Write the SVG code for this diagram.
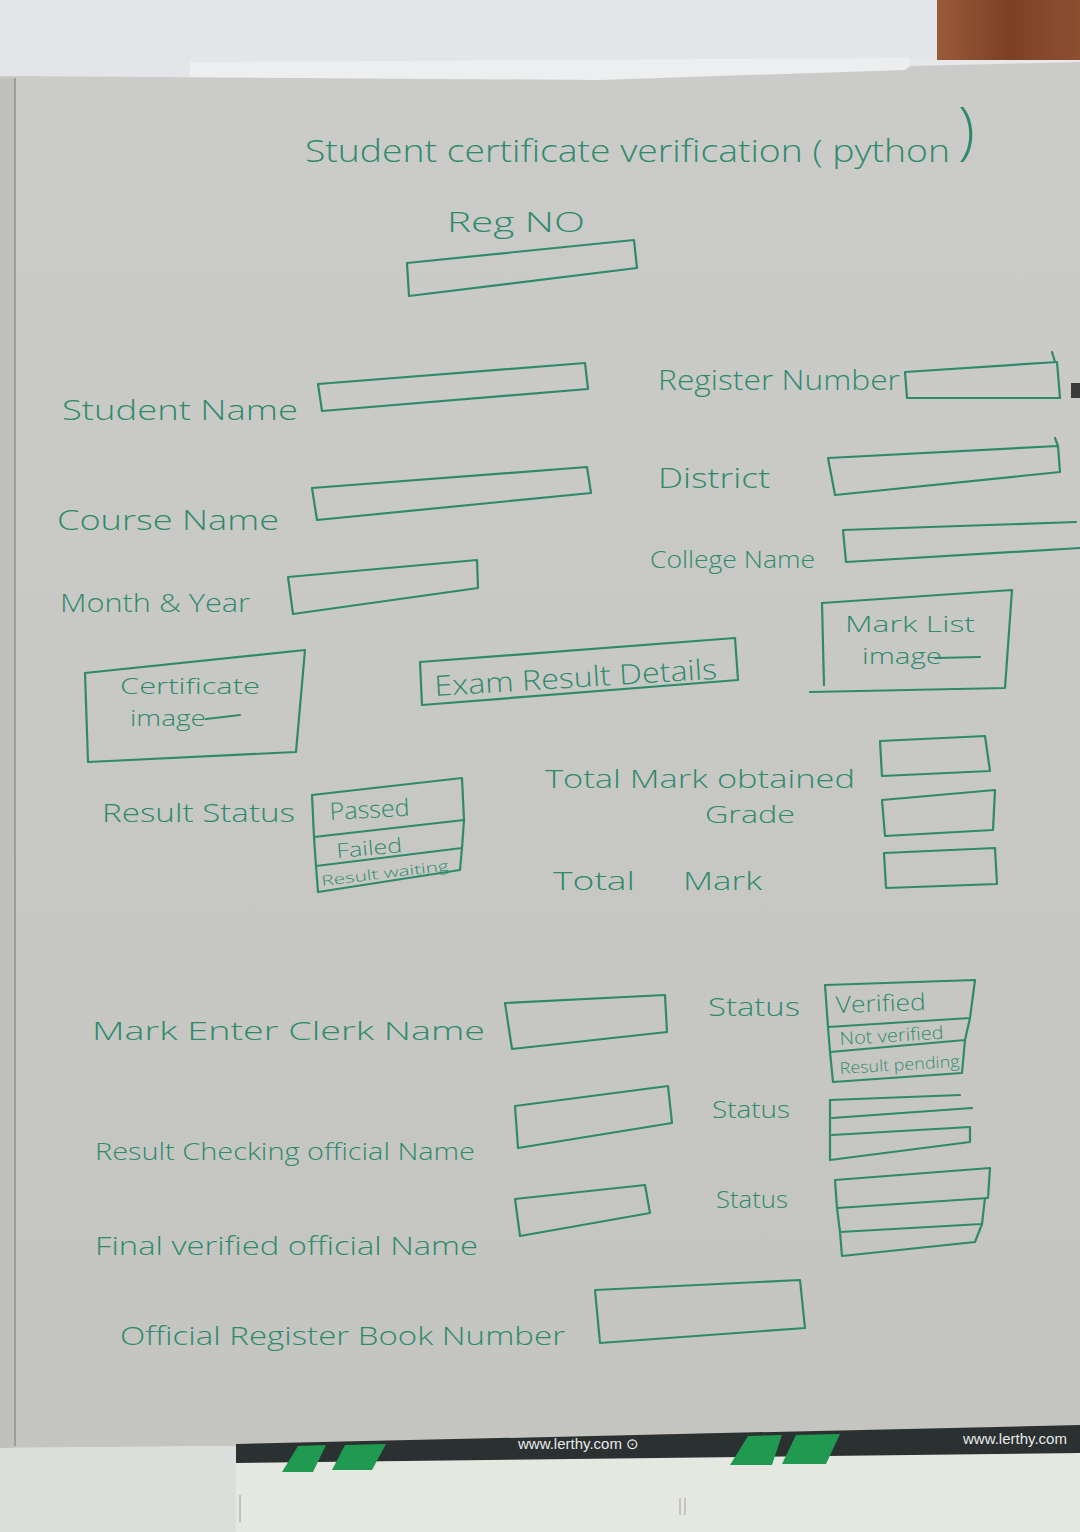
<svg xmlns="http://www.w3.org/2000/svg" width="1080" height="1532" viewBox="0 0 1080 1532">
<defs>
<linearGradient id="paper" x1="0" y1="0" x2="0" y2="1">
<stop offset="0" stop-color="#cbccc9"/>
<stop offset="1" stop-color="#c4c5c1"/>
</linearGradient>
<linearGradient id="wood" x1="0" y1="0" x2="1" y2="0">
<stop offset="0" stop-color="#9a5a3a"/>
<stop offset="0.5" stop-color="#7e4025"/>
<stop offset="1" stop-color="#8e4e30"/>
</linearGradient>
<style>
.ink{fill:none;stroke:#2f8a6c;stroke-width:2.2;stroke-linejoin:round;stroke-linecap:round}
.t{fill:#2f8a6c;font-family:"Open Sans","DejaVu Sans",sans-serif;font-weight:300}
.w{fill:#e8eaec;font-family:"Liberation Sans",Arial,sans-serif;font-size:15px}
</style>
</defs>
<!-- background scene -->
<rect x="0" y="0" width="1080" height="1532" fill="#e4e5e9"/>
<rect x="937" y="0" width="143" height="62" fill="url(#wood)"/>
<polygon points="190,62 910,58 910,80 190,80" fill="#eceef0"/>
<polygon points="910,60 1080,60 1080,70 910,72" fill="#e6e8ea"/>
<!-- paper -->
<polygon points="0,76 15,76 600,80 905,70 910,66 1080,62 1080,1428 236,1446 0,1448" fill="url(#paper)"/>
<rect x="0" y="78" width="14" height="1370" fill="#c0c1bd"/>
<line x1="15" y1="78" x2="15" y2="1446" stroke="#8e8f8c" stroke-width="1.5"/>
<!-- bottom area -->
<polygon points="0,1448 236,1446 236,1532 0,1532" fill="#dcdedb"/>
<polygon points="236,1446 1080,1428 1080,1532 236,1532" fill="#e5e7e1"/>
<polygon points="236,1444 1080,1425 1080,1453 236,1463" fill="#2b3030"/>
<polygon points="298,1446 326,1445 313,1472 282,1472" fill="#1f9a50"/>
<polygon points="345,1445 386,1444 372,1470 332,1470" fill="#1f9a50"/>
<polygon points="748,1436 782,1435 772,1465 730,1465" fill="#1f9a50"/>
<polygon points="796,1435 840,1434 826,1464 782,1464" fill="#1f9a50"/>
<text class="w" x="518" y="1449">www.lerthy.com ⊙</text>
<text class="w" x="963" y="1444">www.lerthy.com</text>
<line x1="240" y1="1495" x2="240" y2="1522" stroke="#9a9a9a" stroke-width="1"/>
<line x1="680" y1="1498" x2="680" y2="1515" stroke="#a0a0a0" stroke-width="1"/>
<line x1="685" y1="1498" x2="685" y2="1515" stroke="#a0a0a0" stroke-width="1"/>
<rect x="1071" y="383" width="9" height="15" fill="#3a3a3a"/>

<!-- title -->
<g id="title">
<text class="t" x="305" y="162" font-size="32"><tspan textLength="645" lengthAdjust="spacingAndGlyphs">Student certificate verification ( python</tspan><tspan x="958" y="152" font-size="62">)</tspan></text>
</g>

<g id="reg-no">
<text class="t" x="447" y="232" font-size="28" textLength="138" lengthAdjust="spacingAndGlyphs">Reg NO</text>
<path class="ink" d="M407,263 L634,240 L637,268 L409,296 Z"/>
</g>

<g id="student-name">
<text class="t" x="62" y="420" font-size="28" textLength="236" lengthAdjust="spacingAndGlyphs">Student Name</text>
<path class="ink" d="M318,384 L585,363 L588,389 L322,411 Z"/>
</g>

<g id="course-name">
<text class="t" x="57" y="530" font-size="28" textLength="222" lengthAdjust="spacingAndGlyphs">Course Name</text>
<path class="ink" d="M312,488 L587,467 L591,493 L317,520 Z"/>
</g>

<g id="month-year">
<text class="t" x="60" y="612" font-size="26" textLength="190" lengthAdjust="spacingAndGlyphs">Month &amp; Year</text>
<path class="ink" d="M288,577 L477,560 L478,588 L293,614 Z"/>
</g>

<g id="register-number">
<text class="t" x="658" y="390" font-size="28" textLength="242" lengthAdjust="spacingAndGlyphs">Register Number</text>
<path class="ink" d="M905,372 L1057,362 L1060,398 L907,398 Z"/>
<path class="ink" d="M1052,352 L1055,362"/>
</g>

<g id="district">
<text class="t" x="658" y="488" font-size="28" textLength="112" lengthAdjust="spacingAndGlyphs">District</text>
<path class="ink" d="M828,458 L1058,446 L1060,472 L835,495 Z"/>
<path class="ink" d="M1055,438 L1058,446"/>
</g>

<g id="college-name">
<text class="t" x="650" y="568" font-size="24" textLength="165" lengthAdjust="spacingAndGlyphs">College Name</text>
<path class="ink" d="M1076,522 L843,530 L846,562 L1080,548"/>
</g>

<g id="mark-list-image">
<path class="ink" d="M822,603 L1012,590 L1005,688 L810,692"/>
<path class="ink" d="M822,603 L824,685"/>
<text class="t" x="845" y="632" font-size="22" textLength="130" lengthAdjust="spacingAndGlyphs">Mark List</text>
<text class="t" x="862" y="664" font-size="22" textLength="80" lengthAdjust="spacingAndGlyphs">image</text>
<path class="ink" d="M935,658 L980,657"/>
</g>

<g id="exam-result-details">
<path class="ink" d="M420,662 L735,638 L738,680 L422,705 Z"/>
<text class="t" x="435" y="696" font-size="28" textLength="283" lengthAdjust="spacingAndGlyphs" transform="rotate(-3.5 435 696)">Exam Result Details</text>
</g>

<g id="certificate-image">
<path class="ink" d="M85,673 L305,650 L296,752 L88,762 Z"/>
<text class="t" x="120" y="694" font-size="22" textLength="140" lengthAdjust="spacingAndGlyphs">Certificate</text>
<text class="t" x="130" y="726" font-size="22" textLength="76" lengthAdjust="spacingAndGlyphs">image</text>
<path class="ink" d="M206,719 L240,715"/>
</g>

<g id="result-status">
<text class="t" x="102" y="822" font-size="26" textLength="193" lengthAdjust="spacingAndGlyphs">Result Status</text>
<path class="ink" d="M312,795 L462,778 L464,820 L314,837 Z"/>
<path class="ink" d="M314,837 L316,866 L462,848 L464,820"/>
<path class="ink" d="M316,866 L318,892 L460,870 L462,848"/>
<text class="t" x="330" y="820" font-size="24" textLength="80" lengthAdjust="spacingAndGlyphs" transform="rotate(-3 330 820)">Passed</text>
<text class="t" x="337" y="858" font-size="20" textLength="66" lengthAdjust="spacingAndGlyphs" transform="rotate(-5 337 858)">Failed</text>
<text class="t" x="322" y="886" font-size="14" textLength="128" lengthAdjust="spacingAndGlyphs" transform="rotate(-7 322 886)">Result waiting</text>
</g>

<g id="total-mark-obtained">
<text class="t" x="545" y="788" font-size="26" textLength="310" lengthAdjust="spacingAndGlyphs">Total Mark obtained</text>
<path class="ink" d="M880,741 L985,736 L990,771 L882,776 Z"/>
</g>

<g id="grade">
<text class="t" x="705" y="823" font-size="24" textLength="90" lengthAdjust="spacingAndGlyphs">Grade</text>
<path class="ink" d="M882,800 L995,790 L993,830 L885,836 Z"/>
</g>

<g id="total-mark">
<text class="t" y="890" font-size="26"><tspan x="553" textLength="82" lengthAdjust="spacingAndGlyphs">Total</tspan> <tspan x="683" textLength="79" lengthAdjust="spacingAndGlyphs">Mark</tspan></text>
<path class="ink" d="M884,853 L995,848 L997,884 L886,888 Z"/>
</g>

<g id="mark-enter-clerk">
<text class="t" x="92" y="1040" font-size="26" textLength="393" lengthAdjust="spacingAndGlyphs">Mark Enter Clerk Name</text>
<path class="ink" d="M505,1003 L665,995 L667,1032 L512,1049 Z"/>
</g>

<g id="status-1">
<text class="t" x="708" y="1016" font-size="26" textLength="92" lengthAdjust="spacingAndGlyphs">Status</text>
<path class="ink" d="M825,985 L975,980 L970,1018 L828,1027 Z"/>
<path class="ink" d="M828,1027 L830,1052 L965,1040 L970,1018"/>
<path class="ink" d="M830,1052 L833,1082 L962,1073 L965,1040"/>
<text class="t" x="836" y="1013" font-size="23" textLength="90" lengthAdjust="spacingAndGlyphs" transform="rotate(-2 836 1013)">Verified</text>
<text class="t" x="840" y="1045" font-size="18" textLength="104" lengthAdjust="spacingAndGlyphs" transform="rotate(-3.5 840 1045)">Not verified</text>
<text class="t" x="840" y="1074" font-size="16" textLength="120" lengthAdjust="spacingAndGlyphs" transform="rotate(-3.5 840 1074)">Result pending</text>
</g>

<g id="result-checking-official">
<text class="t" x="95" y="1160" font-size="24" textLength="380" lengthAdjust="spacingAndGlyphs">Result Checking official Name</text>
<path class="ink" d="M515,1106 L668,1086 L672,1123 L518,1148 Z"/>
</g>

<g id="status-2">
<text class="t" x="712" y="1118" font-size="24" textLength="78" lengthAdjust="spacingAndGlyphs">Status</text>
<path class="ink" d="M830,1100 L960,1095"/>
<path class="ink" d="M830,1100 L830,1160"/>
<path class="ink" d="M832,1118 L972,1108"/>
<path class="ink" d="M832,1135 L970,1127 L970,1142 L830,1160"/>
</g>

<g id="final-verified-official">
<text class="t" x="95" y="1255" font-size="26" textLength="383" lengthAdjust="spacingAndGlyphs">Final verified official Name</text>
<path class="ink" d="M515,1199 L645,1185 L650,1213 L520,1236 Z"/>
</g>

<g id="status-3">
<text class="t" x="716" y="1208" font-size="24" textLength="72" lengthAdjust="spacingAndGlyphs">Status</text>
<path class="ink" d="M835,1180 L990,1168 L988,1198 L837,1208 Z"/>
<path class="ink" d="M837,1208 L840,1232 L982,1224 L985,1198"/>
<path class="ink" d="M840,1232 L842,1256 L975,1242 L982,1224"/>
</g>

<g id="official-register-book">
<text class="t" x="120" y="1345" font-size="26" textLength="445" lengthAdjust="spacingAndGlyphs">Official Register Book Number</text>
<path class="ink" d="M595,1290 L800,1280 L805,1328 L600,1343 Z"/>
</g>
</svg>
